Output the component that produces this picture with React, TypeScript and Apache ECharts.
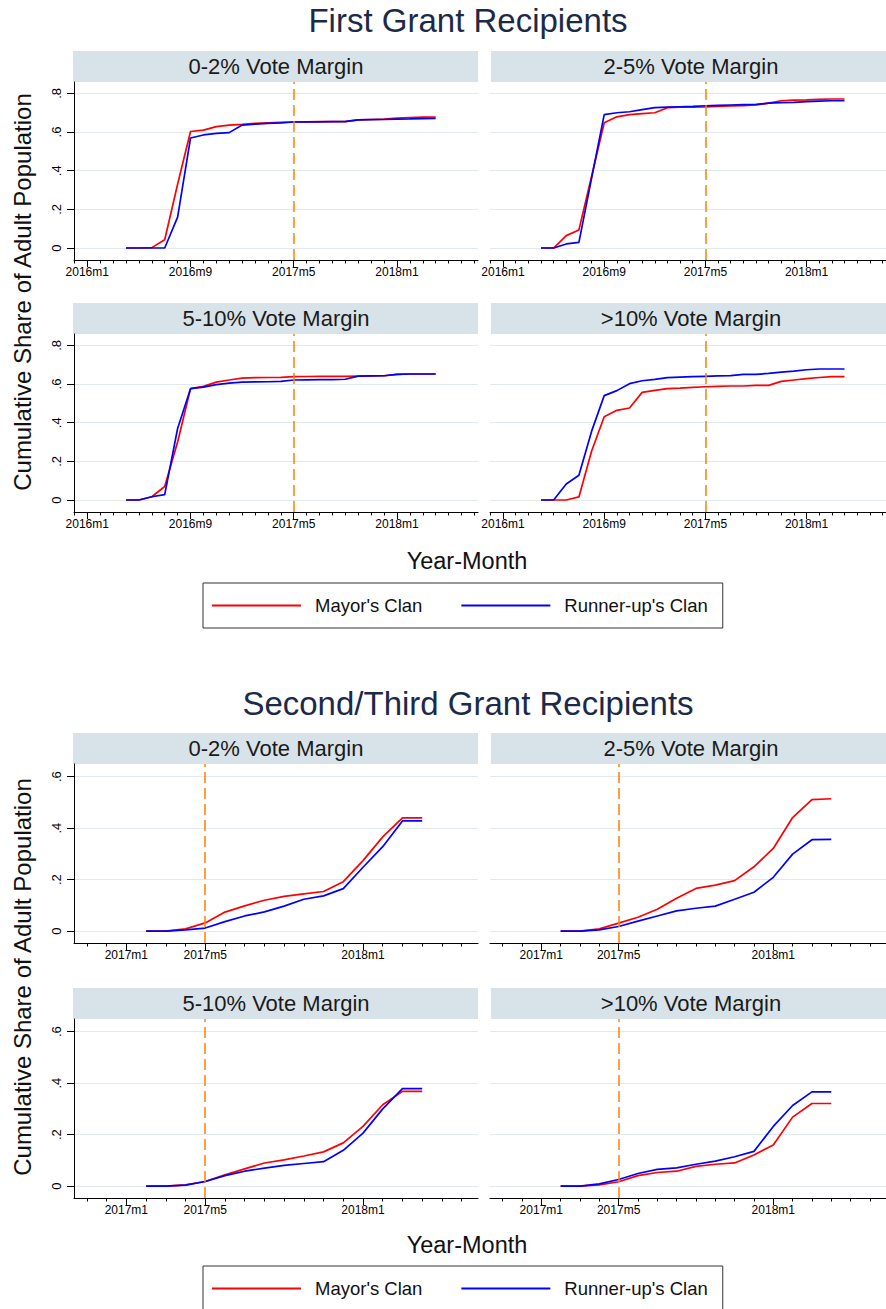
import React, { useEffect, useRef } from "react";
import * as echarts from "echarts";

const FONT = "'Liberation Sans', Arial, Helvetica, sans-serif";

const panelTitles = ["0-2% Vote Margin", "2-5% Vote Margin", "5-10% Vote Margin", ">10% Vote Margin"];
const seriesNames = ["Mayor's Clan", "Runner-up's Clan"];
const figureTitles = ["First Grant Recipients", "Second/Third Grant Recipients"];
const xAxisTitle = "Year-Month";
const yAxisTitle = "Cumulative Share of Adult Population";

// ---------- First grant recipients ----------
const firstMonths = [
  "2016m4", "2016m5", "2016m6", "2016m7", "2016m8", "2016m9", "2016m10", "2016m11", "2016m12",
  "2017m1", "2017m2", "2017m3", "2017m4", "2017m5", "2017m6", "2017m7", "2017m8", "2017m9",
  "2017m10", "2017m11", "2017m12", "2018m1", "2018m2", "2018m3", "2018m4",
];
const firstMayor02 = [0, 0, 0.002, 0.043, 0.33, 0.603, 0.61, 0.628, 0.636, 0.64, 0.645, 0.648, 0.65, 0.652, 0.653, 0.654, 0.654, 0.655, 0.663, 0.665, 0.667, 0.672, 0.675, 0.677, 0.678];
const firstRunner02 = [0, 0, 0, 0, 0.16, 0.569, 0.585, 0.593, 0.597, 0.636, 0.641, 0.645, 0.648, 0.652, 0.653, 0.653, 0.654, 0.654, 0.663, 0.664, 0.665, 0.667, 0.668, 0.67, 0.671];
const firstMayor25 = [0, 0, 0.064, 0.093, 0.37, 0.648, 0.679, 0.69, 0.695, 0.7, 0.726, 0.729, 0.729, 0.73, 0.733, 0.735, 0.737, 0.74, 0.75, 0.762, 0.765, 0.766, 0.769, 0.771, 0.771];
const firstRunner25 = [0, 0, 0.021, 0.029, 0.36, 0.69, 0.7, 0.705, 0.716, 0.726, 0.729, 0.731, 0.733, 0.736, 0.738, 0.74, 0.742, 0.743, 0.75, 0.752, 0.754, 0.757, 0.76, 0.762, 0.762];
const firstMayor510 = [0, 0, 0.017, 0.07, 0.3, 0.576, 0.588, 0.61, 0.621, 0.631, 0.633, 0.634, 0.635, 0.638, 0.639, 0.64, 0.64, 0.64, 0.641, 0.642, 0.643, 0.65, 0.652, 0.652, 0.652];
const firstRunner510 = [0, 0, 0.017, 0.028, 0.37, 0.576, 0.584, 0.597, 0.605, 0.61, 0.611, 0.612, 0.614, 0.621, 0.622, 0.623, 0.623, 0.625, 0.641, 0.642, 0.643, 0.65, 0.652, 0.652, 0.652];
const firstMayor10 = [0, 0, 0, 0.016, 0.252, 0.431, 0.464, 0.476, 0.557, 0.567, 0.576, 0.579, 0.583, 0.586, 0.588, 0.59, 0.59, 0.593, 0.593, 0.614, 0.621, 0.628, 0.634, 0.638, 0.638];
const firstRunner10 = [0, 0, 0.083, 0.128, 0.355, 0.54, 0.566, 0.602, 0.617, 0.624, 0.633, 0.636, 0.638, 0.64, 0.642, 0.644, 0.65, 0.65, 0.655, 0.662, 0.667, 0.674, 0.678, 0.678, 0.678];
const firstXTicks = ["2016m1", "2016m9", "2017m5", "2018m1"];
const firstYTicks = [0, 0.2, 0.4, 0.6, 0.8];

// ---------- Second / third grant recipients ----------
const secondMonths = [
  "2017m2", "2017m3", "2017m4", "2017m5", "2017m6", "2017m7", "2017m8", "2017m9",
  "2017m10", "2017m11", "2017m12", "2018m1", "2018m2", "2018m3", "2018m4",
];
const secondMayor02 = [0, 0, 0.009, 0.032, 0.074, 0.098, 0.12, 0.135, 0.145, 0.154, 0.192, 0.274, 0.366, 0.44, 0.44];
const secondRunner02 = [0, 0, 0.005, 0.012, 0.037, 0.059, 0.075, 0.097, 0.124, 0.137, 0.165, 0.248, 0.328, 0.428, 0.428];
const secondMayor25 = [0, 0, 0.009, 0.031, 0.054, 0.085, 0.128, 0.166, 0.179, 0.196, 0.25, 0.321, 0.441, 0.511, 0.514];
const secondRunner25 = [0, 0, 0.005, 0.018, 0.039, 0.059, 0.079, 0.089, 0.097, 0.124, 0.151, 0.209, 0.299, 0.355, 0.356];
const secondMayor510 = [0, 0, 0.005, 0.018, 0.044, 0.067, 0.09, 0.102, 0.117, 0.133, 0.168, 0.232, 0.316, 0.368, 0.368];
const secondRunner510 = [0, 0, 0.004, 0.018, 0.041, 0.058, 0.07, 0.081, 0.088, 0.095, 0.139, 0.206, 0.3, 0.379, 0.379];
const secondMayor10 = [0, 0, 0.005, 0.017, 0.041, 0.053, 0.058, 0.077, 0.085, 0.09, 0.121, 0.16, 0.268, 0.321, 0.321];
const secondRunner10 = [0, 0, 0.009, 0.026, 0.049, 0.065, 0.071, 0.085, 0.097, 0.114, 0.135, 0.232, 0.313, 0.366, 0.366];
const secondXTicks = ["2017m1", "2017m5", "2018m1"];
const secondYTicks = [0, 0.2, 0.4, 0.6];

const cutoffMonth = "2017m5";

// ---------- helpers ----------
const parseMonth = (s: string) => {
  const [y, m] = s.split("m").map(Number);
  return y * 12 + (m - 1);
};
const fmtMonth = (v: number) => {
  const r = Math.round(v);
  return `${Math.floor(r / 12)}m${(r % 12) + 1}`;
};
const fmtShare = (v: number) => (Math.abs(v) < 1e-9 ? "0" : v.toFixed(1).replace(/^0/, ""));

// ---------- layout (pixels) ----------
const COL_LEFT = [74, 490];
const PLOT_W = 404;
const HEADER_H = 31;
const RED = "#ff0000";
const BLUE = "#0000ff";
const ORANGE = "#ff8000";
const GRID_COLOR = "#e0e9ee";
const STRIP = "#d8e3e9";

const figures = [
  {
    title: figureTitles[0],
    titleY: 20,
    months: firstMonths,
    mayor: [firstMayor02, firstMayor25, firstMayor510, firstMayor10],
    runner: [firstRunner02, firstRunner25, firstRunner510, firstRunner10],
    xTicks: firstXTicks,
    yTicks: firstYTicks,
    xRef: "2016m1",
    xMinOff: -1.03,
    xMaxOff: 30.28,
    yMin: -0.062,
    yMax: 0.859,
    rowTop: [82, 334],
    plotH: 178,
    yTitleY: 292,
    xTitleY: 561,
    legendTop: 583,
  },
  {
    title: figureTitles[1],
    titleY: 703,
    months: secondMonths,
    mayor: [secondMayor02, secondMayor25, secondMayor510, secondMayor10],
    runner: [secondRunner02, secondRunner25, secondRunner510, secondRunner10],
    xTicks: secondXTicks,
    yTicks: secondYTicks,
    xRef: "2017m1",
    xMinOff: -2.654,
    xMaxOff: 17.83,
    yMin: -0.046,
    yMax: 0.649,
    rowTop: [764, 1019],
    plotH: 179,
    yTitleY: 977,
    xTitleY: 1245,
    legendTop: 1266,
  },
];

function buildOption() {
  const grid: any[] = [];
  const xAxis: any[] = [];
  const yAxis: any[] = [];
  const series: any[] = [];
  const graphic: any[] = [];
  const legend: any[] = [];

  figures.forEach((fig) => {
    const ref = parseMonth(fig.xRef);
    const xMin = ref + fig.xMinOff;
    const xMax = ref + fig.xMaxOff;
    const majorVals = fig.xTicks.map(parseMonth);
    const minorVals: number[] = [];
    for (let v = Math.ceil(xMin); v <= Math.floor(xMax); v++) minorVals.push(v);

    graphic.push({
      type: "text",
      x: 468,
      y: fig.titleY,
      style: { text: fig.title, fontSize: 33, fontFamily: FONT, fill: "#1c2a48", align: "center", verticalAlign: "middle" },
    });
    graphic.push({
      type: "text",
      x: 22,
      y: fig.yTitleY,
      rotation: Math.PI / 2,
      style: { text: yAxisTitle, fontSize: 24, fontFamily: FONT, fill: "#111", align: "center", verticalAlign: "middle" },
    });
    graphic.push({
      type: "text",
      x: 467,
      y: fig.xTitleY,
      style: { text: xAxisTitle, fontSize: 23.5, fontFamily: FONT, fill: "#111", align: "center", verticalAlign: "middle" },
    });

    legend.push({
      left: 203,
      top: fig.legendTop,
      orient: "horizontal",
      data: seriesNames,
      selectedMode: false,
      icon: "rect",
      itemWidth: 89,
      itemHeight: 2,
      itemGap: 39,
      padding: [13, 15, 13, 9],
      borderColor: "#333",
      borderWidth: 1,
      borderRadius: 0,
      textStyle: { fontSize: 18.5, fontFamily: FONT, color: "#111", padding: [0, 0, 0, 9] },
    });

    for (let p = 0; p < 4; p++) {
      const row = Math.floor(p / 2);
      const col = p % 2;
      const g = grid.length;
      const left = COL_LEFT[col];
      const top = fig.rowTop[row];

      grid.push({ left, top, width: PLOT_W, height: fig.plotH, containLabel: false });

      graphic.push({
        type: "rect",
        shape: { x: left + (col === 0 ? -1 : 1), y: top - HEADER_H, width: col === 0 ? 405 : 400, height: HEADER_H },
        style: { fill: STRIP },
        z: 0,
      });
      graphic.push({
        type: "text",
        x: col === 0 ? 276 : 691,
        y: top - HEADER_H / 2,
        style: { text: panelTitles[p], fontSize: 22, fontFamily: FONT, fill: "#1a1a1a", align: "center", verticalAlign: "middle" },
        z: 1,
      });

      const majorIdx = xAxis.length;
      xAxis.push({
        type: "value",
        gridIndex: g,
        position: "bottom",
        min: xMin,
        max: xMax,
        axisLine: { show: true, onZero: false, lineStyle: { color: "#000", width: 1 } },
        axisTick: { show: true, customValues: majorVals, length: 7, lineStyle: { color: "#000", width: 1 } },
        axisLabel: { show: true, customValues: majorVals, formatter: fmtMonth, fontSize: 12, fontFamily: FONT, color: "#000", margin: 6 },
        splitLine: { show: false },
      });
      xAxis.push({
        type: "value",
        gridIndex: g,
        position: "bottom",
        min: xMin,
        max: xMax,
        axisLine: { show: false, onZero: false },
        axisTick: { show: true, customValues: minorVals, length: 3.5, lineStyle: { color: "#000", width: 1 } },
        axisLabel: { show: false },
        splitLine: { show: false },
      });

      yAxis.push({
        type: "value",
        gridIndex: g,
        position: "left",
        min: fig.yMin,
        max: fig.yMax,
        axisLine: { show: col === 0, onZero: false, lineStyle: { color: "#000", width: 1 } },
        axisTick: { show: col === 0, customValues: fig.yTicks, length: 7, lineStyle: { color: "#000", width: 1 } },
        axisLabel: {
          show: col === 0,
          customValues: fig.yTicks,
          rotate: 90,
          formatter: fmtShare,
          fontSize: 13,
          fontFamily: FONT,
          color: "#000",
          margin: 11,
        },
        splitLine: { show: true, lineStyle: { color: GRID_COLOR, width: 1 } },
      });

      const xs = fig.months.map(parseMonth);
      series.push({
        type: "line",
        name: seriesNames[0],
        xAxisIndex: majorIdx,
        yAxisIndex: g,
        data: xs.map((x, i) => [x, fig.mayor[p][i]]),
        symbol: "none",
        color: RED,
        lineStyle: { color: RED, width: 1.7 },
        z: 3,
        markLine: {
          silent: true,
          symbol: ["none", "none"],
          label: { show: false },
          lineStyle: { color: ORANGE, type: [11, 5], width: 1.5 },
          data: [{ xAxis: parseMonth(cutoffMonth) }],
          z: 5,
        },
      });
      series.push({
        type: "line",
        name: seriesNames[1],
        xAxisIndex: majorIdx,
        yAxisIndex: g,
        data: xs.map((x, i) => [x, fig.runner[p][i]]),
        symbol: "none",
        color: BLUE,
        lineStyle: { color: BLUE, width: 1.7 },
        z: 4,
      });
    }
  });

  return {
    animation: false,
    backgroundColor: "#ffffff",
    textStyle: { fontFamily: FONT },
    grid,
    xAxis,
    yAxis,
    series,
    legend,
    graphic,
  };
}

export default function App() {
  const ref = useRef<HTMLDivElement>(null);
  useEffect(() => {
    if (!ref.current) return;
    const chart = echarts.init(ref.current, null, { renderer: "svg" });
    chart.setOption(buildOption() as any);
    return () => chart.dispose();
  }, []);
  return (
    <div
      ref={ref}
      style={{ position: "absolute", left: 0, top: 0, width: 886, height: 1309, background: "#fff" }}
    />
  );
}
